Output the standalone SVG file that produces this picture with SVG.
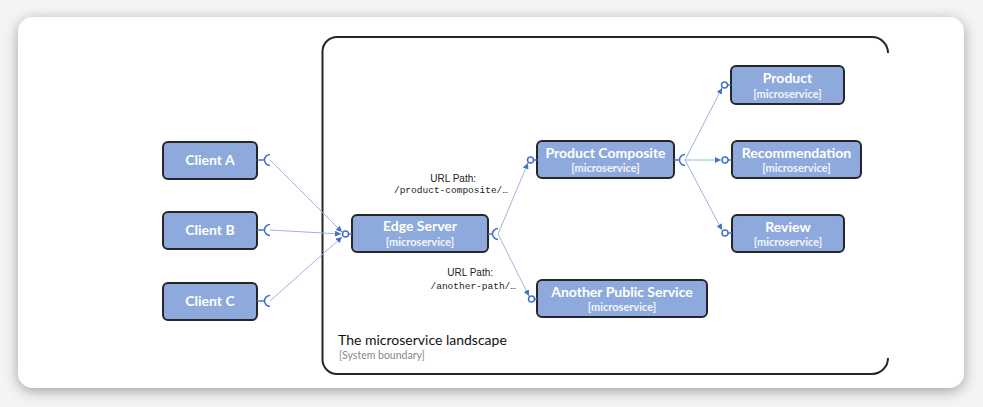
<svg xmlns="http://www.w3.org/2000/svg" width="983" height="407" viewBox="0 0 983 407">
<defs>
<filter id="sh" x="-10%" y="-20%" width="120%" height="140%">
<feGaussianBlur in="SourceAlpha" stdDeviation="7"/>
<feOffset dx="0" dy="3"/>
<feComponentTransfer><feFuncA type="linear" slope="0.35"/></feComponentTransfer>
<feMerge><feMergeNode/><feMergeNode in="SourceGraphic"/></feMerge>
</filter>
<marker id="ah" viewBox="0 0 6 6" refX="6" refY="3" markerWidth="6" markerHeight="6" orient="auto" markerUnits="userSpaceOnUse">
<path d="M0,0 L6,3 L0,6 z" fill="#4472c4"/>
</marker>
</defs>
<style>
.box{fill:#8eaadc;stroke:#262626;stroke-width:2}
.t{font-family:Lato,"Liberation Sans",sans-serif;font-weight:bold;fill:#fff;text-anchor:middle}
.t1{font-size:14px}
.t2{font-size:11px;fill:#f2f4fb}
.cn{fill:none;stroke:#9bb4e3;stroke-width:1}
.port{fill:#fff;stroke:#4472c4;stroke-width:1.5}
.sock{fill:none;stroke:#4472c4;stroke-width:1.5}
.lbl{font-family:"Liberation Sans",Arial,sans-serif;font-size:10px;fill:#222;text-anchor:end}
.mono{font-family:"Liberation Mono","DejaVu Sans Mono",monospace;font-size:9.5px;fill:#222;text-anchor:end}
</style>
<rect x="0" y="0" width="983" height="407" fill="#f4f4f4"/>
<rect x="18" y="17" width="946" height="371" rx="15" fill="#fff" filter="url(#sh)"/>

<g id="boundary">
<path d="M888,53 A16,16 0 0 0 872,37 H337 A14.5,14.5 0 0 0 322.5,51.5 V359.5 A14.5,14.5 0 0 0 337,374 H872 A16,16 0 0 0 888,358" fill="none" stroke="#262626" stroke-width="2"/>
<text x="338" y="345" font-family="Lato,'Liberation Sans',sans-serif" font-size="14" fill="#111">The microservice landscape</text>
<text x="339" y="359" font-family="Lato,'Liberation Sans',sans-serif" font-size="10.5" fill="#888">[System boundary]</text>
</g>

<g id="connectors">
<path class="cn" d="M270,160 L342,232" marker-end="url(#ah)"/>
<path class="cn" d="M270,230 L341,234" marker-end="url(#ah)"/>
<path class="cn" d="M270,301 L342,237" marker-end="url(#ah)"/>
<path class="cn" d="M498,234 L528,163" marker-end="url(#ah)"/>
<path class="cn" d="M498,234 L529,296" marker-end="url(#ah)"/>
<path class="cn" d="M685,160 L722,88" marker-end="url(#ah)"/>
<path class="cn" d="M685,160 L721,160" marker-end="url(#ah)"/>
<path class="cn" d="M685,160 L722,230" marker-end="url(#ah)"/>
<text class="lbl" x="476" y="182">URL Path:</text>
<text class="mono" x="508" y="193">/product-composite/…</text>
<text class="lbl" x="493" y="276">URL Path:</text>
<text class="mono" x="516" y="289">/another-path/…</text>
</g>

<g id="client-a">
<rect class="box" x="163" y="142" width="94" height="37" rx="5"/>
<text class="t t1" x="210" y="165">Client A</text>
<path class="sock" d="M257,160 H264 M270,154.5 A5.5,5.5 0 0 0 270,165.5"/>
</g>
<g id="client-b">
<rect class="box" x="163" y="212" width="94" height="37" rx="5"/>
<text class="t t1" x="210" y="235">Client B</text>
<path class="sock" d="M257,230 H264 M270,224.5 A5.5,5.5 0 0 0 270,235.5"/>
</g>
<g id="client-c">
<rect class="box" x="163" y="283" width="94" height="37" rx="5"/>
<text class="t t1" x="210" y="306">Client C</text>
<path class="sock" d="M257,301 H264 M270,295.5 A5.5,5.5 0 0 0 270,306.5"/>
</g>

<g id="edge-server">
<rect class="box" x="352" y="215" width="136" height="37" rx="5"/>
<text class="t t1" x="420" y="231">Edge Server</text>
<text class="t t2" x="420" y="246">[microservice]</text>
<path class="sock" d="M488,234 H492 M498,228.5 A5.5,5.5 0 0 0 498,239.5"/>
<line x1="348" y1="234" x2="352" y2="234" stroke="#4472c4" stroke-width="1.5"/>
<circle class="port" cx="345.5" cy="234" r="3"/>
</g>

<g id="product-composite">
<rect class="box" x="537" y="141" width="137" height="37" rx="5"/>
<text class="t t1" x="605.5" y="158">Product Composite</text>
<text class="t t2" x="605.5" y="172">[microservice]</text>
<line x1="533" y1="160" x2="537" y2="160" stroke="#4472c4" stroke-width="1.5"/>
<circle class="port" cx="530.5" cy="160" r="3"/>
<path class="sock" d="M674,160 H679 M685,154.5 A5.5,5.5 0 0 0 685,165.5"/>
</g>

<g id="another-public-service">
<rect class="box" x="537" y="280" width="170" height="37" rx="5"/>
<text class="t t1" x="622" y="297">Another Public Service</text>
<text class="t t2" x="622" y="311">[microservice]</text>
<line x1="534" y1="299" x2="537" y2="299" stroke="#4472c4" stroke-width="1.5"/>
<circle class="port" cx="531.5" cy="299" r="3"/>
</g>

<g id="product">
<rect class="box" x="731" y="66" width="113" height="38" rx="5"/>
<text class="t t1" x="787.5" y="83">Product</text>
<text class="t t2" x="787.5" y="98">[microservice]</text>
<line x1="727" y1="85" x2="731" y2="85" stroke="#4472c4" stroke-width="1.5"/>
<circle class="port" cx="724.5" cy="85" r="3"/>
</g>

<g id="recommendation">
<rect class="box" x="732" y="141" width="129" height="37" rx="5"/>
<text class="t t1" x="796.5" y="158">Recommendation</text>
<text class="t t2" x="796.5" y="172">[microservice]</text>
<line x1="728" y1="160" x2="732" y2="160" stroke="#4472c4" stroke-width="1.5"/>
<circle class="port" cx="725" cy="160" r="3"/>
</g>

<g id="review">
<rect class="box" x="732" y="215" width="112" height="37" rx="5"/>
<text class="t t1" x="788" y="232">Review</text>
<text class="t t2" x="788" y="246">[microservice]</text>
<line x1="728" y1="233" x2="732" y2="233" stroke="#4472c4" stroke-width="1.5"/>
<circle class="port" cx="725" cy="233" r="3"/>
</g>
</svg>
